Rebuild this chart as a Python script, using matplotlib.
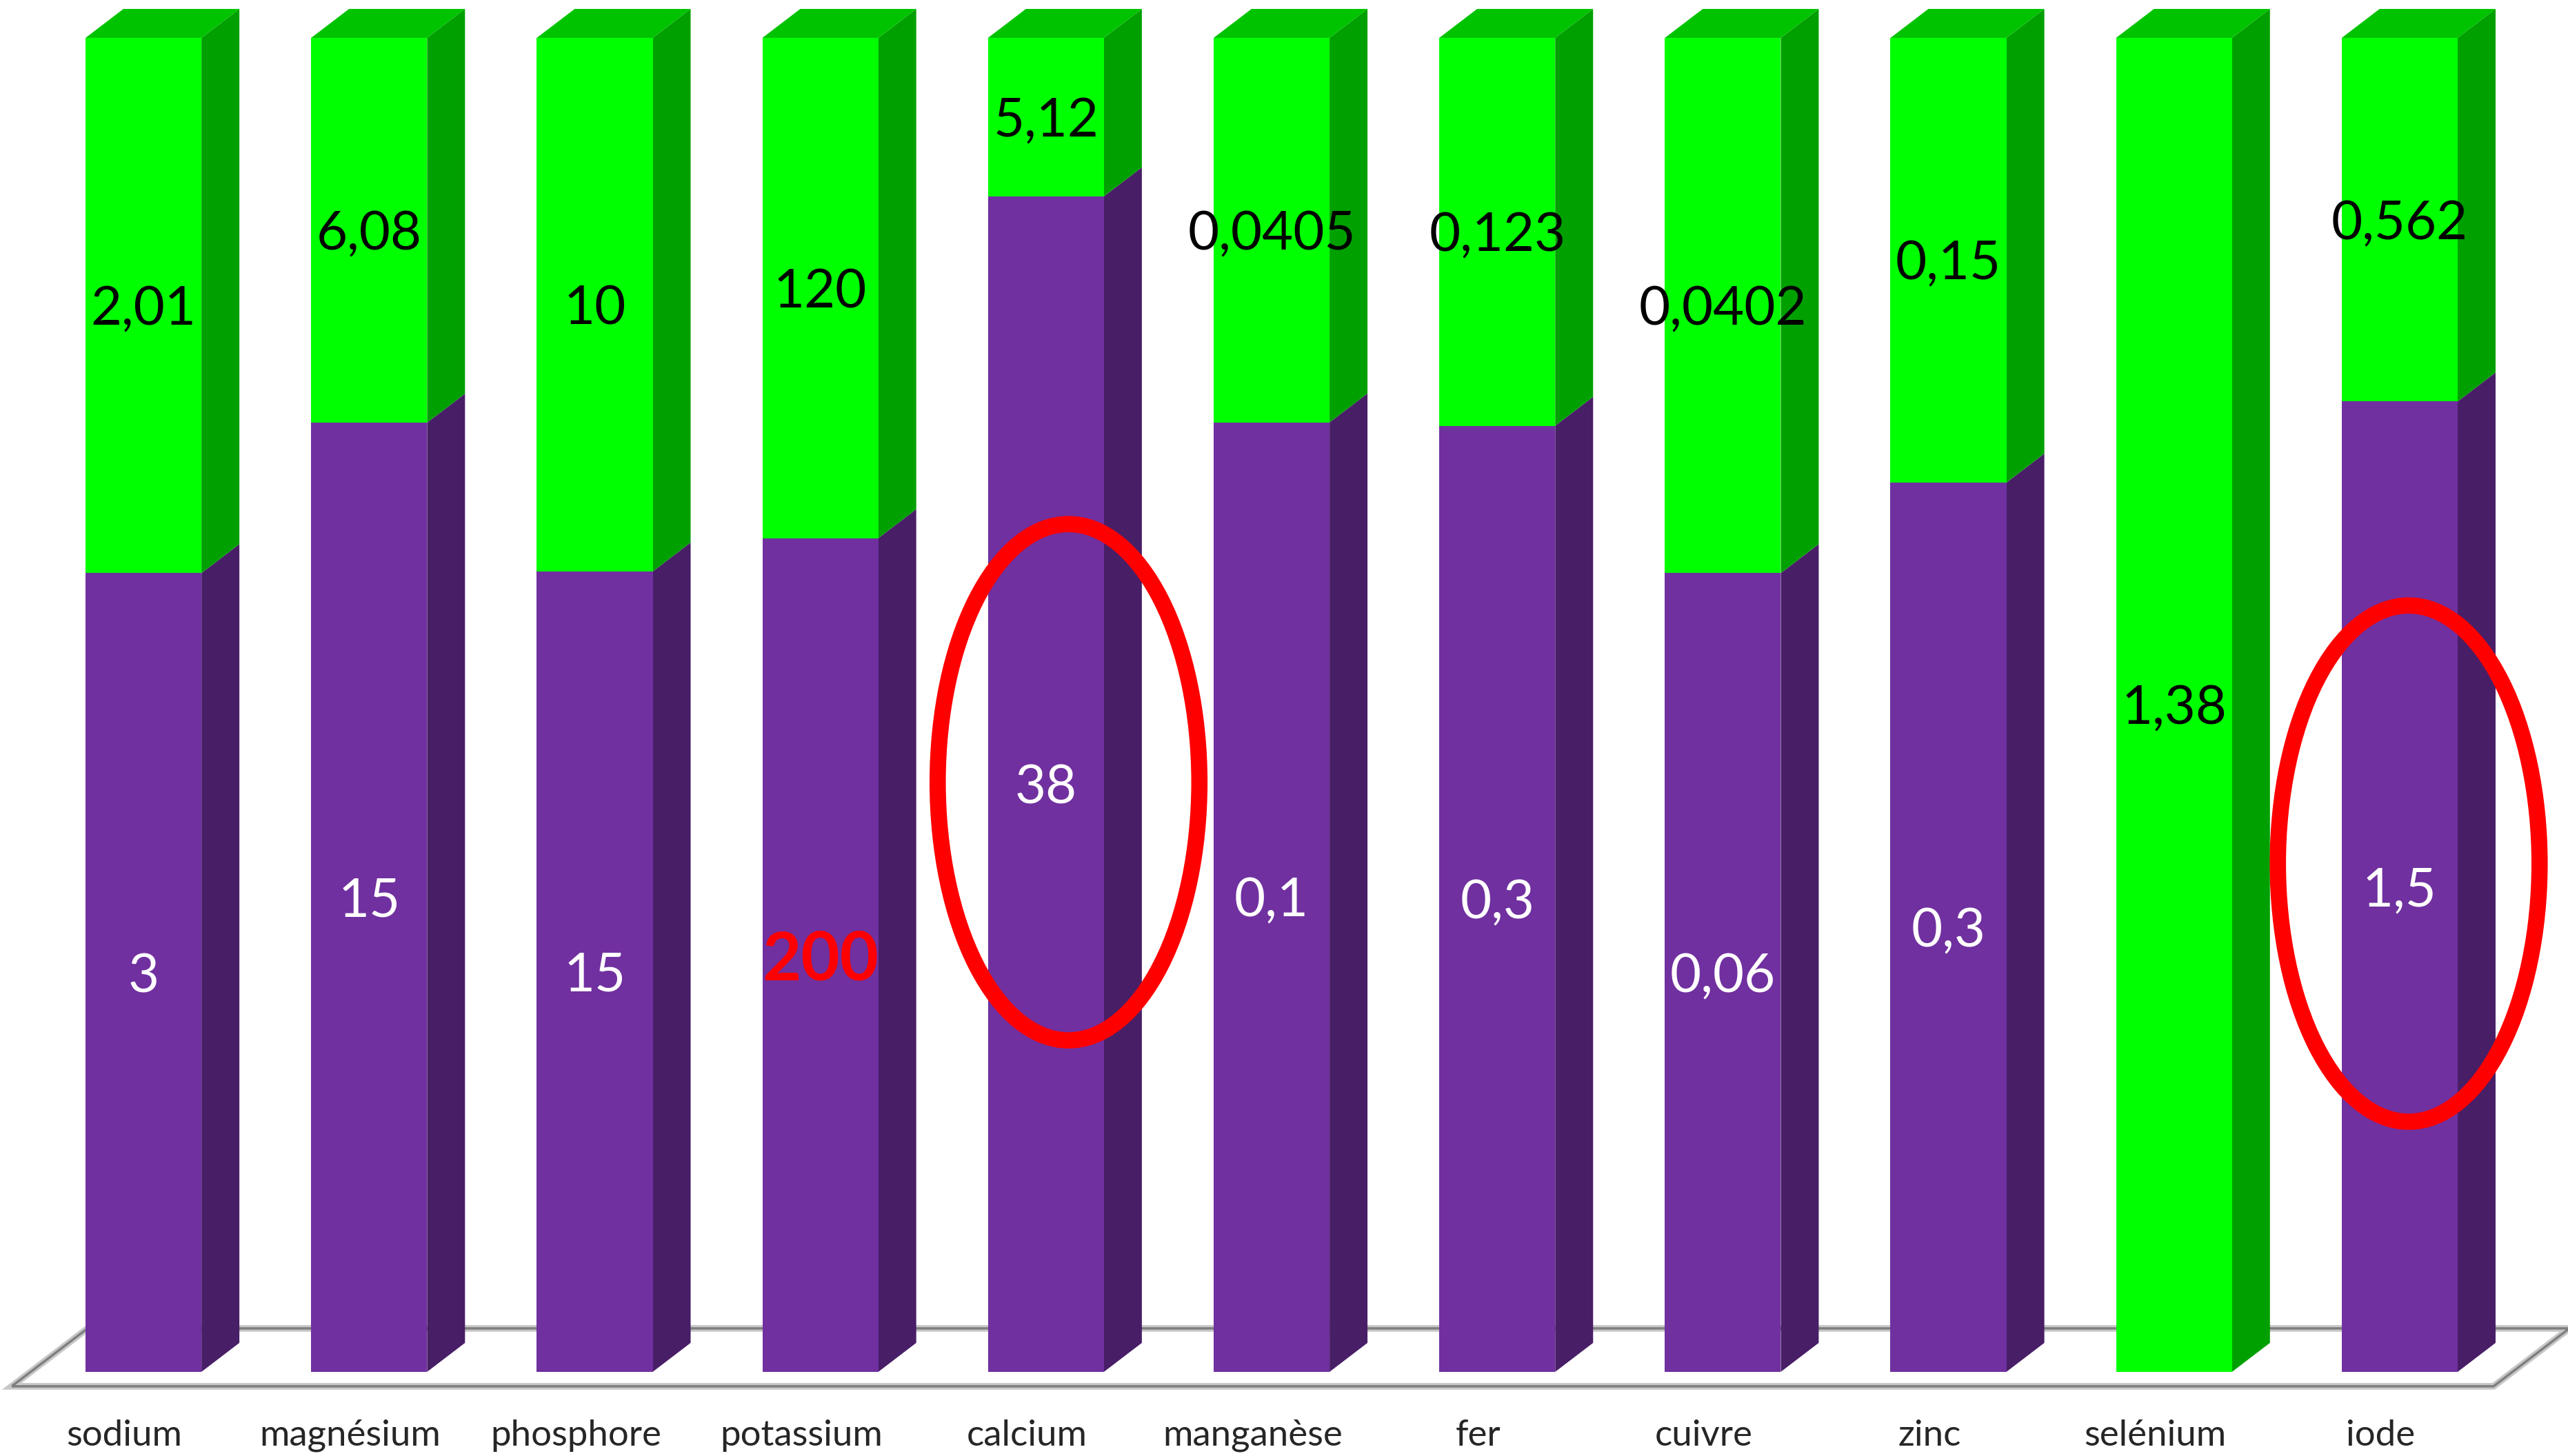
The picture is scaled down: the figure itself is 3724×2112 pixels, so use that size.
import matplotlib
matplotlib.use("Agg")
import matplotlib.pyplot as plt
from matplotlib.patches import Polygon, Ellipse

plt.rcParams['font.family'] = ['Lato', 'DejaVu Sans']

# Mineral intake comparison (100 % stacked per mineral)
minerals = ["sodium", "magnésium", "phosphore", "potassium", "calcium",
            "manganèse", "fer", "cuivre", "zinc", "selénium", "iode"]
purple_vals = [3, 15, 15, 200, 38, 0.1, 0.3, 0.06, 0.3, 0, 1.5]
green_vals = [2.01, 6.08, 10, 120, 5.12, 0.0405, 0.123, 0.0402, 0.15, 1.38, 0.562]
emphasised = "potassium"

# hand-drawn highlight rings: (category position, height as share of bar)
ring_x = [4.10, 10.04]
ring_y = [0.442, 0.381]

PURPLE_FRONT, PURPLE_SIDE = "#7030A0", "#481E67"
GREEN_FRONT, GREEN_SIDE, GREEN_TOP = "#00FF00", "#00A000", "#00C300"

def fmt(v):
    return f"{v:g}".replace(".", ",")

fig = plt.figure(figsize=(37.24, 21.12), dpi=100)
ax = fig.add_axes([0, 0, 1, 1])
n = len(minerals)
ax.set_xlim(-0.636, 10.746)
ax.set_ylim(-0.0631, 1.0284)
ax.axis("off")

width = 0.514      # front face width (category units)
dx, dy = 0.168, 0.0217  # depth offset of the pseudo-3D extrusion

# floor plate
fl = [(-0.5 - 0.5 * dx, -0.5 * dy), (n - 0.5 - 0.5 * dx, -0.5 * dy),
      (n - 0.5 + 1.5 * dx, 1.5 * dy), (-0.5 + 1.5 * dx, 1.5 * dy)]
ax.add_patch(Polygon(fl, closed=True, facecolor="white", edgecolor="#c8c8c8",
                     linewidth=7, zorder=1))
ax.add_patch(Polygon(fl, closed=True, facecolor="none", edgecolor="#7f7f7f",
                     linewidth=2.5, zorder=1.1))

for i, (name, p, g) in enumerate(zip(minerals, purple_vals, green_vals)):
    total = p + g
    fp = p / total
    x0, x1 = i - width / 2, i + width / 2

    # front faces
    ax.bar(i, fp, width=width, bottom=0, color=PURPLE_FRONT, linewidth=0, zorder=3)
    ax.bar(i, 1 - fp, width=width, bottom=fp, color=GREEN_FRONT, linewidth=0, zorder=3)

    # side faces
    if fp > 0:
        ax.add_patch(Polygon([(x1, 0), (x1 + dx, dy), (x1 + dx, fp + dy), (x1, fp)],
                             closed=True, facecolor=PURPLE_SIDE, linewidth=0, zorder=2))
    ax.add_patch(Polygon([(x1, fp), (x1 + dx, fp + dy), (x1 + dx, 1 + dy), (x1, 1)],
                         closed=True, facecolor=GREEN_SIDE, linewidth=0, zorder=2))
    # top face
    ax.add_patch(Polygon([(x0, 1), (x0 + dx, 1 + dy), (x1 + dx, 1 + dy), (x1, 1)],
                         closed=True, facecolor=GREEN_TOP, linewidth=0, zorder=2))

    # value labels
    if p > 0:
        if name == emphasised:
            ax.text(i, fp / 2, fmt(p), ha="center", va="center_baseline",
                    color="#ff0000", fontsize=70, fontweight="bold", zorder=5)
        else:
            ax.text(i, fp / 2, fmt(p), ha="center", va="center_baseline",
                    color="white", fontsize=56, zorder=5)
    ax.text(i, fp + (1 - fp) / 2, fmt(g), ha="center", va="center_baseline",
            color="black", fontsize=56, zorder=5)

    # category label
    ax.text(i - 0.5 * dx, -0.0553, name, ha="center", va="baseline",
            color="#262626", fontsize=38, zorder=5)

# red highlight rings
for rx, ry in zip(ring_x, ring_y):
    ax.add_patch(Ellipse((rx, ry), 1.16, 0.387, facecolor="none",
                         edgecolor="#ff0000", linewidth=17, zorder=6))

fig.savefig("out.png", dpi=100, facecolor="white")
